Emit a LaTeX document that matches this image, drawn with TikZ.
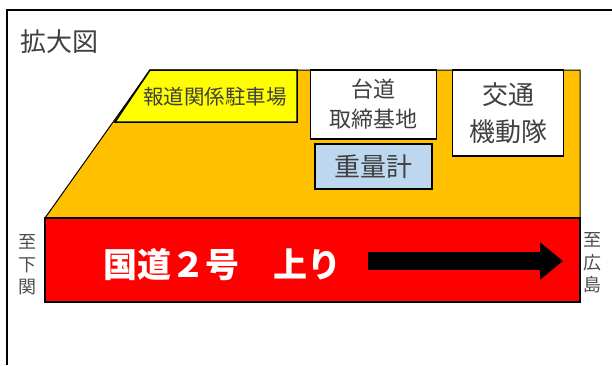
\documentclass[tikz,border=0pt]{standalone}
\usepackage{fontspec}
\setmainfont{Noto Sans CJK JP}
\usetikzlibrary{arrows.meta}

\definecolor{areaorange}{HTML}{FFC000}
\definecolor{pressyellow}{HTML}{FFFF00}
\definecolor{roadred}{HTML}{FF0000}
\definecolor{scaleblue}{HTML}{BDD7EE}

\begin{document}
\begin{tikzpicture}[x=1pt,y=-1pt,inner sep=0pt,
  box/.style={draw=black,line width=1.5pt,fill=white,text=black!75,align=center},
  side/.style={text=black!70,font=\fontsize{18}{22.5}\selectfont,align=center}]
  \useasboundingbox (0,0) rectangle (612,365);

  % frame
  \draw[line width=2.5pt] (7,365) -- (7,10) -- (612,10);
  \node[anchor=west,text=black!75,font=\fontsize{26}{30}\selectfont] (title) at (20,42) {拡大図};

  % site area
  \draw[fill=areaorange,line width=1pt] (45,218) -- (150,70) -- (580,70) -- (580,218) -- cycle;
  \draw[fill=pressyellow,line width=1.5pt] (150,70) -- (297,70) -- (297,122) -- (115,122) -- cycle;
  \node[text=black!75,font=\fontsize{20.5}{24}\selectfont] (press) at (215,97) {報道関係駐車場};

  \node[box,minimum width=126pt,minimum height=69pt,font=\fontsize{22}{30}\selectfont]
    (base) at (373.7,104.5) {台道\\取締基地};
  \node[box,fill=scaleblue,minimum width=117pt,minimum height=45pt,font=\fontsize{26}{30}\selectfont]
    (scale) at (373.3,166.7) {重量計};
  \node[box,minimum width=111pt,minimum height=86pt,font=\fontsize{26}{37}\selectfont]
    (police) at (508,112.8) {交通\\機動隊};

  % road
  \node[draw=black,line width=1.5pt,fill=roadred,minimum width=535pt,minimum height=84pt]
    (road) at (312.5,260) {};
  \node[anchor=west,text=white,font=\bfseries\fontsize{34}{40}\selectfont] (roadname) at (103,265) {国道２号　上り};
  \coordinate (dirS) at (368,261);
  \coordinate (dirE) at (563,261);
  \draw[line width=18pt,-{Triangle[length=23pt,width=36pt]}] (dirS) -- (dirE);

  \node[side] (west) at (27,265) {至\\下\\関};
  \node[side] (east) at (592,263) {至\\広\\島};
\end{tikzpicture}
\end{document}
